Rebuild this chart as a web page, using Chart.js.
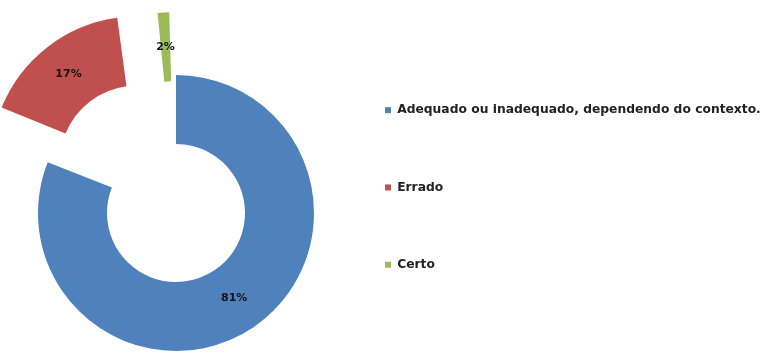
<!DOCTYPE html>
<html>
<head>
<meta charset="utf-8">
<script src="https://cdn.jsdelivr.net/npm/chart.js@4/dist/chart.umd.min.js"></script>
<style>
	body { margin: 0; background: #fff; }
	#wrap { width: 763px; height: 353px; }
</style>
</head>
<body>
<div id="wrap"><canvas id="mycanvas"></canvas></div>
<script>
var answers = ["Adequado ou inadequado, dependendo do contexto.", "Errado", "Certo"];
var percents = [81, 17, 2];

var sliceColors = ["#4f81bd", "#c0504d", "#9bbb59"];

// percentage text drawn in the middle of each (pulled out) slice
var sliceLabels = {
	id: "sliceLabels",
	afterDatasetsDraw: function(chart) {
		var ctx = chart.ctx;
		var meta = chart.getDatasetMeta(0);
		ctx.save();
		ctx.font = "bold 11px 'DejaVu Sans'";
		ctx.fillStyle = "#141414";
		ctx.textAlign = "center";
		ctx.textBaseline = "middle";
		meta.data.forEach(function(arc, i) {
			var p = arc.getProps(["x", "y", "startAngle", "endAngle", "innerRadius", "outerRadius"], true);
			var shift = (arc.options.offset || 0) / 4;
			var sweep = p.endAngle - p.startAngle;
			var grow = shift * (1 - Math.sin(Math.min(Math.PI, sweep)));
			var mid = (p.startAngle + p.endAngle) / 2;
			var r = shift + grow + (p.innerRadius + p.outerRadius) / 2;
			ctx.fillText(percents[i] + "%", p.x + Math.cos(mid) * r, p.y + Math.sin(mid) * r);
		});
		ctx.restore();
	}
};

var ctx = document.getElementById("mycanvas");

var chart = new Chart(ctx, {
	type: "doughnut",
	data: {
		labels: answers,
		datasets: [
			{
				data: percents,
				backgroundColor: sliceColors,
				borderWidth: 0,
				offset: [0, 256, 134],
				clip: false
			}
		]
	},
	options: {
		responsive: true,
		maintainAspectRatio: false,
		animation: false,
		radius: 138,
		cutout: "50%",
		layout: {
			padding: { left: 32, right: 0, top: 39, bottom: 0 }
		},
		plugins: {
			tooltip: { enabled: false },
			// empty title only reserves room above the ring
			title: {
				display: true,
				text: "",
				font: { size: 10 },
				padding: { top: 22, bottom: 0 }
			},
			legend: {
				position: "right",
				align: "start",
				maxWidth: 443,
				labels: {
					boxWidth: 6,
					boxHeight: 6,
					padding: 65,
					color: "#222",
					font: { family: "'DejaVu Sans'", size: 12.3, weight: "bold" }
				}
			}
		}
	},
	plugins: [sliceLabels]
});
</script>
</body>
</html>
